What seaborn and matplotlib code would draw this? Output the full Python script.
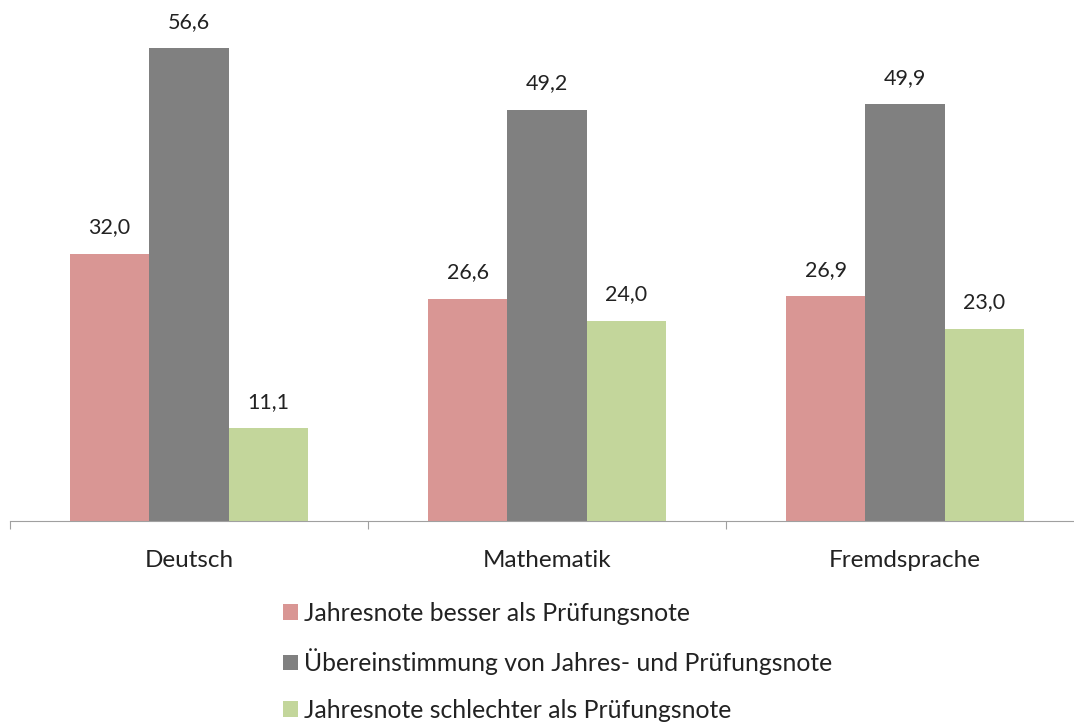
import pandas as pd
import matplotlib.pyplot as plt
import seaborn as sns

# Werte aus dem Diagramm (Prozent)
faecher = ['Deutsch', 'Mathematik', 'Fremdsprache']
besser = [32.0, 26.6, 26.9]
gleich = [56.6, 49.2, 49.9]
schlechter = [11.1, 24.0, 23.0]
reihen = ['Jahresnote besser als Prüfungsnote',
          'Übereinstimmung von Jahres- und Prüfungsnote',
          'Jahresnote schlechter als Prüfungsnote']
farben = ['#D99694', '#808080', '#C3D69B']

df = pd.DataFrame({
    'Fach': faecher * 3,
    'Wert': besser + gleich + schlechter,
    'Reihe': [reihen[0]] * 3 + [reihen[1]] * 3 + [reihen[2]] * 3,
})

sns.set_style('white')
plt.rcParams['font.family'] = ['Lato', 'DejaVu Sans']

fig = plt.figure(figsize=(10.74, 7.22), dpi=100)
ax = fig.add_axes([10 / 1074, 201 / 722, 1.0, 501 / 722])

sns.barplot(data=df, x='Fach', y='Wert', hue='Reihe', palette=farben,
            width=0.665, gap=0, ax=ax, legend=True, saturation=1, linewidth=0)

for cont in ax.containers:
    ax.bar_label(cont, labels=[f'{v:.1f}'.replace('.', ',') for v in cont.datavalues],
                 padding=12, fontsize=15.5, color='#222222')

ax.set_ylim(0, 60)
ax.set_xlim(-0.5, 2.5)
ax.set_xlabel('')
ax.set_ylabel('')
ax.set_yticks([])
sns.despine(ax=ax, left=True, top=True, right=True)
ax.spines['bottom'].set_color('#A0A0A0')
ax.set_xticks([-0.5, 0.5, 1.5, 2.5])
ax.set_xticklabels([])
ax.tick_params(axis='x', which='major', length=6, color='#A0A0A0', direction='out', bottom=True)
ax.set_xticks([0, 1, 2], minor=True)
ax.set_xticklabels(faecher, minor=True, fontsize=17.5, color='#222222')
ax.tick_params(axis='x', which='minor', length=0, pad=21)

handles, labels = ax.get_legend_handles_labels()
ax.get_legend().remove()
fig.legend(handles, labels, loc='upper left', bbox_to_anchor=(273 / 1074, 1 - 592 / 722),
           frameon=False, fontsize=17.8, handlelength=0.6, handleheight=0.6,
           handletextpad=0.25, labelspacing=0.95, labelcolor='#222222',
           borderaxespad=0)

fig.savefig('out.png', dpi=100)
